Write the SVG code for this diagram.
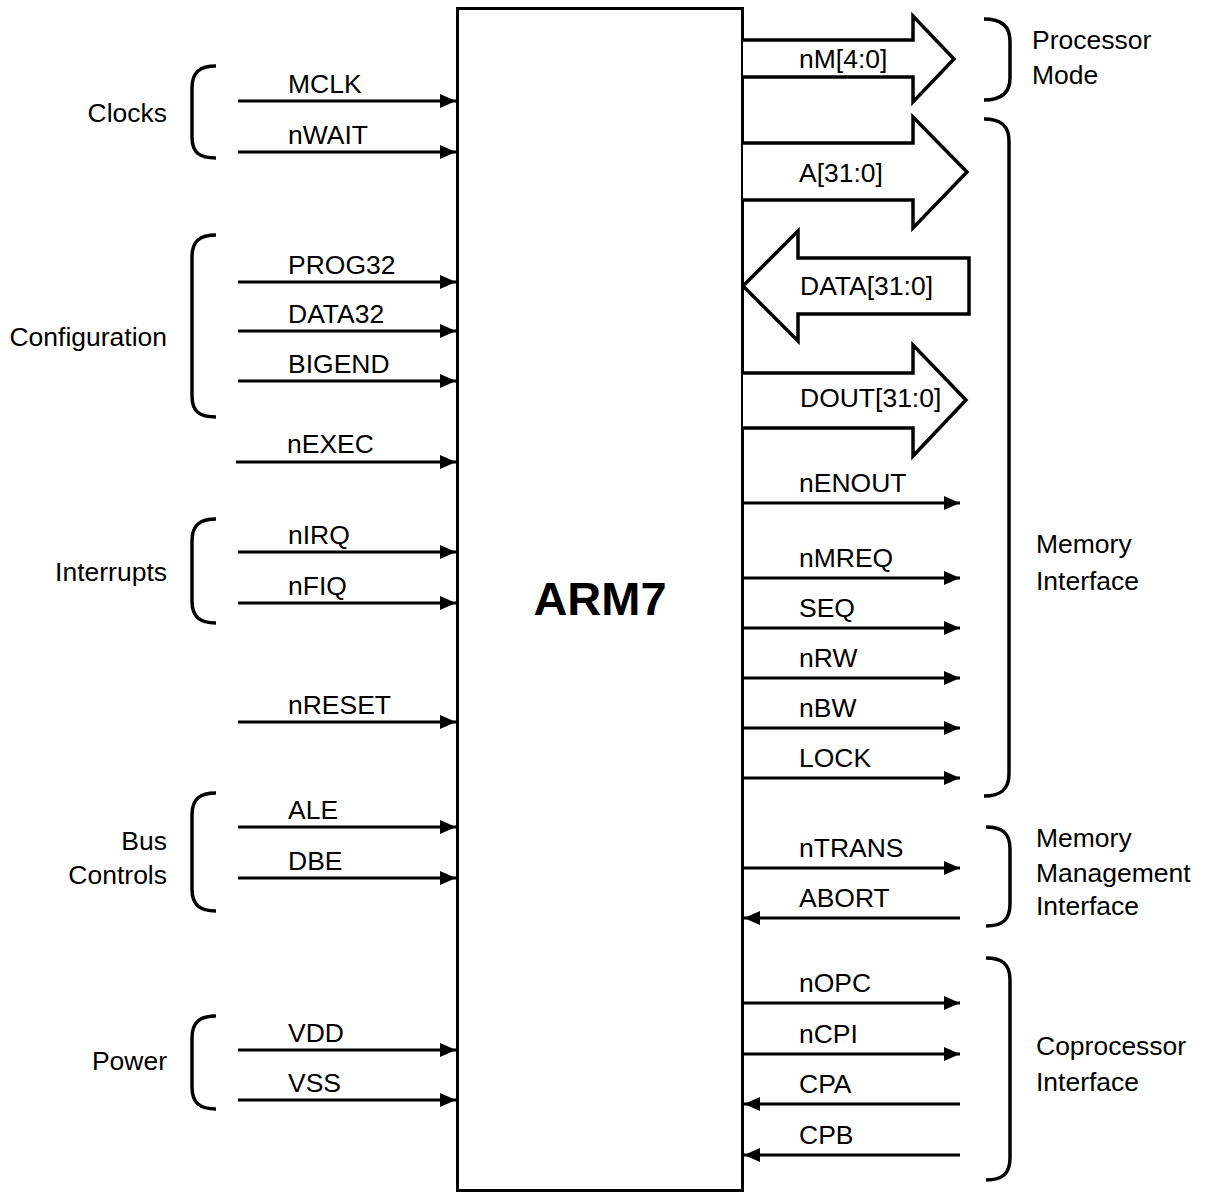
<svg xmlns="http://www.w3.org/2000/svg" width="1210" height="1192" viewBox="0 0 1210 1192">
<style>
text{font-family:"Liberation Sans",Arial,sans-serif;font-size:25px;fill:#000}
.end{text-anchor:end}
.sig{stroke:#000;stroke-width:3;fill:none;marker-end:url(#ah)}
.br{stroke:#000;stroke-width:3.5;fill:none}
.bus{stroke:#000;stroke-width:3.5;fill:#fff;stroke-linejoin:miter}
.chip{stroke:#000;stroke-width:3;fill:#fff}
.title{font-weight:bold;font-size:47px;text-anchor:middle}
</style>
<defs>
<marker id="ah" markerUnits="userSpaceOnUse" markerWidth="16" markerHeight="14" refX="16" refY="7" orient="auto">
<path d="M0,0 L16,7 L0,14 Z" fill="#000"/>
</marker>
</defs>
<rect width="1210" height="1192" fill="#fff"/>

<g id="arm7">
<rect class="chip" x="457.5" y="8.5" width="285" height="1182"/>
<text class="title" x="600" y="615">ARM7</text>
</g>

<g id="buses">
<polyline class="bus" points="743,40 913,40 913,16 954,59 913,102 913,77 743,77"/>
<polyline class="bus" points="743,143 913,143 913,117 967,172 913,228 913,200 743,200"/>
<polyline class="bus" points="743,286 798,231 798,258 969,258 969,314 798,314 798,341 743,286"/>
<polyline class="bus" points="743,373 913,373 913,345 966,400 913,456 913,428 743,428"/>
<text transform="translate(799,68) scale(1.06,1)">nM[4:0]</text>
<text transform="translate(799,182) scale(1.06,1)">A[31:0]</text>
<text transform="translate(800,295) scale(1.06,1)">DATA[31:0]</text>
<text transform="translate(800,407) scale(1.06,1)">DOUT[31:0]</text>
</g>

<g id="connectors">
<line class="sig" x1="238" y1="101" x2="456" y2="101"/>
<line class="sig" x1="238" y1="152" x2="456" y2="152"/>
<line class="sig" x1="238" y1="282" x2="456" y2="282"/>
<line class="sig" x1="238" y1="331" x2="456" y2="331"/>
<line class="sig" x1="238" y1="381" x2="456" y2="381"/>
<line class="sig" x1="236" y1="462" x2="456" y2="462"/>
<line class="sig" x1="238" y1="552" x2="456" y2="552"/>
<line class="sig" x1="238" y1="603" x2="456" y2="603"/>
<line class="sig" x1="238" y1="722" x2="456" y2="722"/>
<line class="sig" x1="238" y1="827" x2="456" y2="827"/>
<line class="sig" x1="238" y1="878" x2="456" y2="878"/>
<line class="sig" x1="238" y1="1050" x2="456" y2="1050"/>
<line class="sig" x1="238" y1="1100" x2="456" y2="1100"/>

<line class="sig" x1="743" y1="503" x2="960" y2="503"/>
<line class="sig" x1="743" y1="578" x2="960" y2="578"/>
<line class="sig" x1="743" y1="628" x2="960" y2="628"/>
<line class="sig" x1="743" y1="678" x2="960" y2="678"/>
<line class="sig" x1="743" y1="728" x2="960" y2="728"/>
<line class="sig" x1="743" y1="778" x2="960" y2="778"/>
<line class="sig" x1="743" y1="868" x2="960" y2="868"/>
<line class="sig" x1="960" y1="918" x2="744" y2="918"/>
<line class="sig" x1="743" y1="1003" x2="960" y2="1003"/>
<line class="sig" x1="743" y1="1054" x2="960" y2="1054"/>
<line class="sig" x1="960" y1="1104" x2="744" y2="1104"/>
<line class="sig" x1="960" y1="1155" x2="744" y2="1155"/>
</g>

<g id="signal-labels">
<text transform="translate(288,93) scale(1.06,1)">MCLK</text>
<text transform="translate(288,144) scale(1.06,1)">nWAIT</text>
<text transform="translate(288,274) scale(1.06,1)">PROG32</text>
<text transform="translate(288,323) scale(1.06,1)">DATA32</text>
<text transform="translate(288,373) scale(1.06,1)">BIGEND</text>
<text transform="translate(287,453) scale(1.06,1)">nEXEC</text>
<text transform="translate(288,544) scale(1.06,1)">nIRQ</text>
<text transform="translate(288,595) scale(1.06,1)">nFIQ</text>
<text transform="translate(288,714) scale(1.06,1)">nRESET</text>
<text transform="translate(288,819) scale(1.06,1)">ALE</text>
<text transform="translate(288,870) scale(1.06,1)">DBE</text>
<text transform="translate(288,1042) scale(1.06,1)">VDD</text>
<text transform="translate(288,1092) scale(1.06,1)">VSS</text>

<text transform="translate(799,492) scale(1.06,1)">nENOUT</text>
<text transform="translate(799,567) scale(1.06,1)">nMREQ</text>
<text transform="translate(799,617) scale(1.06,1)">SEQ</text>
<text transform="translate(799,667) scale(1.06,1)">nRW</text>
<text transform="translate(799,717) scale(1.06,1)">nBW</text>
<text transform="translate(799,767) scale(1.06,1)">LOCK</text>
<text transform="translate(799,857) scale(1.06,1)">nTRANS</text>
<text transform="translate(799,907) scale(1.06,1)">ABORT</text>
<text transform="translate(799,992) scale(1.06,1)">nOPC</text>
<text transform="translate(799,1043) scale(1.06,1)">nCPI</text>
<text transform="translate(799,1093) scale(1.06,1)">CPA</text>
<text transform="translate(799,1144) scale(1.06,1)">CPB</text>
</g>

<g id="group-clocks">
<path class="br" d="M216,66 C200,66 192,72 192,88 L192,137 C192,153 200,158 216,158"/>
<text class="end" transform="translate(167,122) scale(1.06,1)">Clocks</text>
</g>
<g id="group-configuration">
<path class="br" d="M216,235 C200,235 192,241 192,257 L192,396 C192,412 200,417 216,417"/>
<text class="end" transform="translate(167,346) scale(1.06,1)">Configuration</text>
</g>
<g id="group-interrupts">
<path class="br" d="M216,519 C200,519 192,525 192,541 L192,601 C192,617 200,623 216,623"/>
<text class="end" transform="translate(167,581) scale(1.06,1)">Interrupts</text>
</g>
<g id="group-bus">
<path class="br" d="M216,793 C200,793 192,799 192,815 L192,889 C192,905 200,911 216,911"/>
<text class="end" transform="translate(167,850) scale(1.06,1)">Bus</text>
<text class="end" transform="translate(167,884) scale(1.06,1)">Controls</text>
</g>
<g id="group-power">
<path class="br" d="M216,1016 C200,1016 192,1022 192,1038 L192,1087 C192,1103 200,1109 216,1109"/>
<text class="end" transform="translate(167,1070) scale(1.06,1)">Power</text>
</g>

<g id="group-processor-mode">
<path class="br" d="M984,19 C1000,19 1010,25 1010,41 L1010,78 C1010,94 1000,100 984,100"/>
<text transform="translate(1032,49) scale(1.06,1)">Processor</text>
<text transform="translate(1032,84) scale(1.06,1)">Mode</text>
</g>
<g id="group-memory-interface">
<path class="br" d="M984,119 C1000,119 1009,125 1009,141 L1009,774 C1009,790 1000,796 984,796"/>
<text transform="translate(1036,553) scale(1.06,1)">Memory</text>
<text transform="translate(1036,590) scale(1.06,1)">Interface</text>
</g>
<g id="group-memory-management">
<path class="br" d="M986,827 C1002,827 1010,833 1010,849 L1010,904 C1010,920 1002,926 986,926"/>
<text transform="translate(1036,847) scale(1.06,1)">Memory</text>
<text transform="translate(1036,882) scale(1.06,1)">Management</text>
<text transform="translate(1036,915) scale(1.06,1)">Interface</text>
</g>
<g id="group-coprocessor">
<path class="br" d="M986,958 C1002,958 1010,964 1010,980 L1010,1158 C1010,1174 1002,1180 986,1180"/>
<text transform="translate(1036,1055) scale(1.06,1)">Coprocessor</text>
<text transform="translate(1036,1091) scale(1.06,1)">Interface</text>
</g>
</svg>
